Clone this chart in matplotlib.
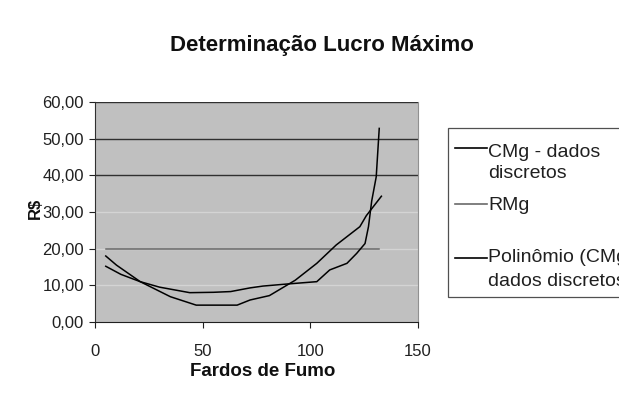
import matplotlib
matplotlib.use("Agg")
from matplotlib import pyplot as plt
from matplotlib.lines import Line2D
from matplotlib.patches import Rectangle

plt.rcParams['font.family'] = ['Liberation Sans', 'DejaVu Sans']

# CMg - dados discretos
cmg_x = [5, 12, 21, 30, 44, 55, 63, 72, 78, 90, 103, 109, 117, 121.5, 125.4, 127, 128.5, 130.6, 132]
cmg_y = [15.2, 13.0, 11.0, 9.5, 8.0, 8.1, 8.3, 9.3, 9.8, 10.4, 11.0, 14.2, 16.0, 18.7, 21.4, 26.0, 33.0, 39.6, 52.8]

# RMg
rmg_x = [5, 132]
rmg_y = [20, 20]

# Polinômio (CMg - dados discretos)
poly_x = [5, 10, 21, 35, 47, 55, 66, 72, 81, 93, 103, 112, 123, 126, 133]
poly_y = [18.0, 15.5, 11.0, 6.9, 4.6, 4.6, 4.6, 6.0, 7.2, 11.4, 16.0, 21.0, 26.0, 29.0, 34.3]

y_ticks = [0, 10, 20, 30, 40, 50, 60]
y_labels = ['0,00', '10,00', '20,00', '30,00', '40,00', '50,00', '60,00']
x_ticks = [0, 50, 100, 150]

W, H = 619, 413


def fx(px):
    return px / W


def fy(py):
    return 1 - py / H


def main():
    fig = plt.figure(figsize=(6.19, 4.13), dpi=100)
    ax = fig.add_axes([fx(95), fy(322), 323/W, 220/H])
    ax.set_facecolor('#c0c0c0')

    ax.set_xlim(0, 150)
    ax.set_ylim(0, 60)
    ax.set_yticks(y_ticks)
    ax.set_yticklabels(y_labels)
    ax.set_xticks(x_ticks)
    ax.tick_params(direction='out', length=4.5, width=0.8, labelsize=12,
                   colors='#202020')
    ax.tick_params(axis='y', pad=3.5)
    ax.tick_params(axis='x', pad=11)

    # gridlines (scan shows the upper ones dark, lower ones pale)
    for v in y_ticks[1:]:
        c = '#303030' if v >= 40 else '#d4d4d4'
        ax.axhline(v, color=c, lw=1.0, zorder=1)

    ax.spines['top'].set_visible(False)
    ax.spines['right'].set_color('#909090')
    ax.spines['left'].set_color('#303030')
    ax.spines['bottom'].set_color('#202020')

    ax.plot(cmg_x, cmg_y, color='black', lw=1.1, zorder=3)
    ax.plot(rmg_x, rmg_y, color='#6a6a6a', lw=1.1, zorder=2)
    ax.plot(poly_x, poly_y, color='black', lw=1.1, zorder=3)

    fig.text(fx(322), fy(51), 'Determinação Lucro Máximo', ha='center', va='baseline',
             fontsize=16, fontweight='bold', color='#101010')
    ax.set_xlabel('Fardos de Fumo', fontsize=13.5, fontweight='bold', color='#101010')
    ax.xaxis.set_label_coords((263 - 95) / 323, -(372 - 322) / 220)
    ax.xaxis.label.set_va('center')
    ax.set_ylabel('R$', fontsize=12, fontweight='bold', color='#101010')
    ax.yaxis.set_label_coords(-(95 - 35) / 323, (322 - 208) / 220)
    ax.yaxis.label.set_va('center')

    # Excel-style legend box, running off the right edge as in the original
    fig.add_artist(Rectangle((fx(448), fy(297)), 200/W, 169/H, transform=fig.transFigure,
                             facecolor='white', edgecolor='#505050', lw=0.9))
    entries = [
        ('black', 148, ['CMg - dados', 'discretos'], [156.7, 178.5]),
        ('#6a6a6a', 204, ['RMg'], [210]),
        ('black', 258, ['Polinômio (CMg -', 'dados discretos)'], [262.3, 286.5]),
    ]
    for color, hy, lines, bases in entries:
        fig.add_artist(Line2D([fx(455), fx(487)], [fy(hy), fy(hy)], color=color, lw=1.2,
                              transform=fig.transFigure))
        for t, b in zip(lines, bases):
            fig.text(fx(488), fy(b), t, ha='left', va='baseline',
                     fontsize=14, color='#202020')

    fig.savefig('out.png', dpi=100)


if __name__ == '__main__':
    main()
